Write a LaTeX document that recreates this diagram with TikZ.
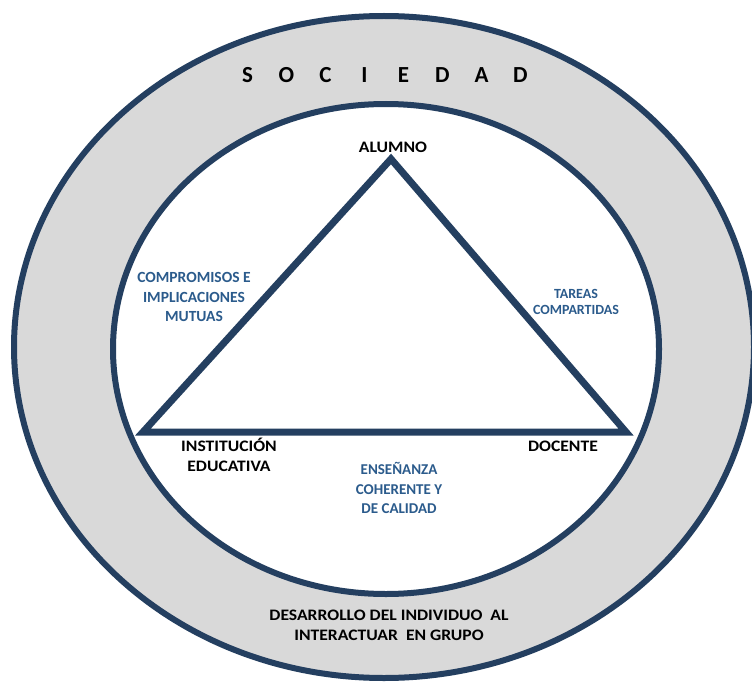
\documentclass[tikz,border=0pt]{standalone}
\usepackage{fontspec}
\setmainfont{Carlito}
\newfontfamily\widefont[FakeStretch=1.1]{Carlito}
\definecolor{navy}{HTML}{243F60}
\definecolor{ringgray}{HTML}{D9D9D9}
\definecolor{lblblue}{HTML}{2B5B8C}
\newcommand\socletter[1]{\makebox[39pt]{#1}}
\begin{document}
\begin{tikzpicture}[x=1pt,y=-1pt,
  vertexlbl/.style={font=\widefont\bfseries\fontsize{16}{20}\selectfont, text=black, align=center, inner sep=0pt},
  sidelbl/.style={font=\bfseries\fontsize{15.5}{19.5}\selectfont, text=lblblue, align=center, inner sep=0pt},
  ringlbl/.style={font=\widefont\bfseries\fontsize{16}{20}\selectfont, text=black, align=center, inner sep=0pt}]
\useasboundingbox (0,0) rectangle (752,682);
\clip (0,0) rectangle (752,682);
\fill[white] (0,0) rectangle (752,682);
% outer ring
\draw[navy, line width=6pt, fill=ringgray] (384,347) ellipse [x radius=370, y radius=331];
% inner disc
\draw[navy, line width=6pt, fill=white] (386,349) ellipse [x radius=273, y radius=245];
% triangle
\coordinate (alumno) at (391,159);
\coordinate (inst) at (143,432);
\coordinate (doc) at (626,432);
\draw[navy, line width=7pt, line join=miter] (alumno) -- (doc) -- (inst) -- cycle;
% labels
\node[font=\bfseries\fontsize{23}{26}\selectfont, inner sep=0pt] (soc) at (384,75)
  {\socletter{S}\socletter{O}\socletter{C}\socletter{I}\socletter{E}\socletter{D}\socletter{A}\socletter{D}};
\node[vertexlbl] (lalumno) at (393,147) {ALUMNO};
\node[vertexlbl] (linst) at (229,455) {INSTITUCIÓN\\EDUCATIVA};
\node[vertexlbl] (ldoc) at (563,446) {DOCENTE};
\node[sidelbl] (lcomp) at (194,297) {COMPROMISOS E\\IMPLICACIONES\\MUTUAS};
\node[sidelbl, font=\bfseries\fontsize{14}{16.5}\selectfont] (ltareas) at (576,302) {TAREAS\\COMPARTIDAS};
\node[sidelbl, font=\bfseries\fontsize{15}{19.5}\selectfont] (lens) at (399,488) {ENSEÑANZA\\COHERENTE Y\\DE CALIDAD};
\node[ringlbl] (ldes) at (389,625) {DESARROLLO DEL INDIVIDUO\ \ AL\\INTERACTUAR\ \ EN GRUPO};
\end{tikzpicture}
\end{document}
